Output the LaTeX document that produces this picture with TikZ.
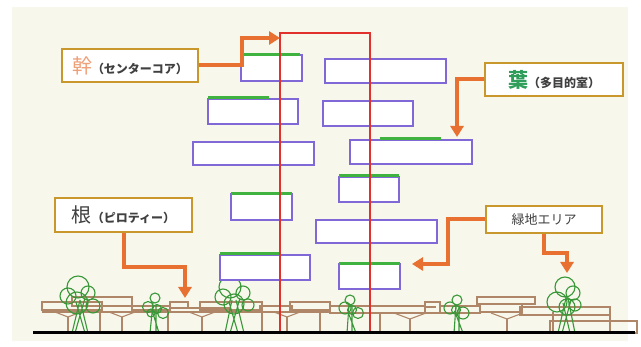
\documentclass[tikz,border=0pt]{standalone}
\usepackage{fontspec}
\newfontfamily\jp{Noto Sans CJK JP}
\usetikzlibrary{arrows.meta,fit}
\definecolor{paper}{RGB}{247,247,236}
\definecolor{roomline}{RGB}{128,104,214}
\definecolor{roofgreen}{RGB}{64,178,64}
\definecolor{corered}{RGB}{226,48,44}
\definecolor{callout}{RGB}{232,112,48}
\definecolor{labelframe}{RGB}{200,152,44}
\definecolor{deckline}{RGB}{176,134,104}
\definecolor{leaf}{RGB}{56,152,56}
\definecolor{ink}{RGB}{64,64,64}
\definecolor{trunkkanji}{RGB}{238,160,120}
\definecolor{leafkanji}{RGB}{46,158,90}
\newcommand{\bigchar}[2]{{\fontsize{20}{21}\selectfont\color{#1}#2}}
\newcommand{\smalltext}[1]{{\fontsize{12}{13}\selectfont\bfseries\color{ink}#1}}
\begin{document}
\begin{tikzpicture}[x=1pt,y=-1pt,
  room/.style={draw=roomline,line width=1.2pt,fill=white,inner sep=0pt},
  roof/.style={draw=roofgreen,line width=3pt},
  core/.style={draw=corered,line width=1.5pt},
  tag/.style={draw=labelframe,line width=2pt,fill=white,inner sep=0pt,font=\jp},
  callarrow/.style={draw=callout,line width=4pt,-{Triangle[length=11pt,width=13pt]}},
  deck/.style={draw=deckline,line width=1.1pt},
  tree/.style={draw=leaf,line width=1.1pt},
  ground/.style={draw=black,line width=3pt}]
% page and paper
\useasboundingbox (0,0) rectangle (641,347);
\fill[white] (0,0) rectangle (641,347);
\fill[paper] (12,7) rectangle (628,341);

% deck slabs of the piloti level
\draw[deck] (42,302) rectangle (102,310);
\draw[deck] (72,297) rectangle (132,306);
\draw[deck] (102,306) -- (170,306);
\draw[deck] (132,306) rectangle (170,310);
\draw[deck] (170,302) rectangle (188,308);
\draw[deck] (188,308) -- (230,308);
\draw[deck] (200,302) rectangle (262,310);
\draw[deck] (260,306) rectangle (292,312);
\draw[deck] (290,302) rectangle (330,310);
\draw[deck] (42,312) -- (330,312);
\draw[deck] (330,306) rectangle (425,313);
\draw[deck] (425,302) rectangle (440,313);
\draw[deck] (425,307) -- (436,307);
\draw[deck] (440,306) rectangle (480,313);
\draw[deck] (477,297) rectangle (535,304);
\draw[deck] (480,304) rectangle (522,312);
\draw[deck] (520,307) rectangle (610,315);
\draw[deck] (550,321) rectangle (637,333);
% branching columns and plain posts
\foreach \px in {68,122,202,287} {
  \draw[deck] (\px-13,312) -- (\px,317) -- (\px+13,312);
  \draw[deck] (\px,317) -- (\px,333);
}
\foreach \px in {410,507} {
  \draw[deck] (\px-16,313) -- (\px,319) -- (\px+16,313);
  \draw[deck] (\px,319) -- (\px,333);
}
\foreach \px in {100,168,262,320,380,553,610} \draw[deck] (\px,312) -- (\px,333);

% trees
\draw[tree] (78,287) circle (11) (68,296) circle (8) (88,293) circle (7)
  (93,306) circle (7) (77,303) circle (11);
\draw[tree] (80,300) -- (72,333) (80,300) -- (88,333) (76,302) -- (85,333) (85,298) -- (75,333);
\draw[tree] (155,298) circle (5) (148,307) circle (5.5) (163,313) circle (5.5)
  (157,309) circle (4.5) (151,313) circle (4);
\draw[tree] (153,303) -- (150,333) (156,305) -- (156,333) (152,310) -- (159,333);
\draw[tree] (230,287) circle (11) (223,297) circle (8) (243,293) circle (7)
  (248,305) circle (6) (234,304) circle (10);
\draw[tree] (232,300) -- (225,333) (236,300) -- (244,333) (229,302) -- (238,333) (240,298) -- (230,333);
\draw[tree] (350,300) circle (5) (345,308) circle (6) (358,313) circle (5.5)
  (352,310) circle (4.5);
\draw[tree] (349,305) -- (347,333) (352,306) -- (352,333) (348,312) -- (356,333);
\draw[tree] (457,300) circle (5) (450,308) circle (6) (463,313) circle (6)
  (456,310) circle (4.5);
\draw[tree] (456,305) -- (454,333) (459,306) -- (459,333) (455,312) -- (463,333);
\draw[tree] (565,287) circle (10) (557,302) circle (10) (573,293) circle (7)
  (575,305) circle (6) (567,307) circle (8);
\draw[tree] (566,298) -- (558,333) (568,298) -- (575,333) (563,303) -- (570,333) (571,300) -- (562,333);

% rooms (leaves)
\node[room, fit={(241,55) (302,81)}] (rA) {};
\node[room, fit={(208,99) (298,124)}] (rB) {};
\node[room, fit={(193,142) (314,165)}] (rC) {};
\node[room, fit={(325,59) (446,83)}] (rD) {};
\node[room, fit={(323,101) (413,126)}] (rE) {};
\node[room, fit={(350,140) (472,164)}] (rF) {};
\node[room, fit={(339,177) (399,202)}] (rG) {};
\node[room, fit={(316,220) (437,243)}] (rH) {};
\node[room, fit={(339,264) (400,289)}] (rI) {};
\node[room, fit={(231,194) (292,220)}] (rJ) {};
\node[room, fit={(220,255) (310,280)}] (rK) {};
% green roofs
\draw[roof] (243,55) -- (300,55);
\draw[roof] (208,98) -- (269,98);
\draw[roof] (380,139) -- (441,139);
\draw[roof] (339,176) -- (399,176);
\draw[roof] (339,264) -- (400,264);
\draw[roof] (231,194) -- (292,194);
\draw[roof] (220,254) -- (279,254);

% central core (trunk)
\draw[core] (280,333) -- (280,33) -- (370,33) -- (370,333);

% ground
\draw[ground] (33,333) -- (635,333);

% labels
\node[tag, minimum width=136, minimum height=33] (kan) at (130,65.5)
  {\bigchar{trunkkanji}{幹}\smalltext{（センターコア）}};
\node[tag, minimum width=138, minimum height=33] (ha) at (554,79.5)
  {\bigchar{leafkanji}{\bfseries 葉}\smalltext{（多目的室）}};
\node[tag, minimum width=137, minimum height=34] (ne) at (123.5,215)
  {\bigchar{ink}{根}\smalltext{（ピロティー）}};
\node[tag, minimum width=116, minimum height=27] (ryoku) at (544,219.5)
  {{\fontsize{13}{14}\selectfont\color{ink}緑地エリア}};

% callout arrows
\coordinate (kanTip) at (280,38);
\coordinate (haTip) at (457,137);
\coordinate (neTip) at (185,298);
\coordinate (ryokuTipA) at (412,264);
\coordinate (ryokuTipB) at (567,273);
\draw[callarrow] (kan.east) -- (242,65.5) |- (kanTip);
\draw[callarrow] (ha.west) -| (haTip);
\draw[callarrow] (ne.south) |- (185,267) -- (neTip);
\draw[callarrow] (ryoku.west) -- (448,219.5) |- (ryokuTipA);
\draw[callarrow] (ryoku.south) |- (567,253) -- (ryokuTipB);
\end{tikzpicture}
\end{document}
